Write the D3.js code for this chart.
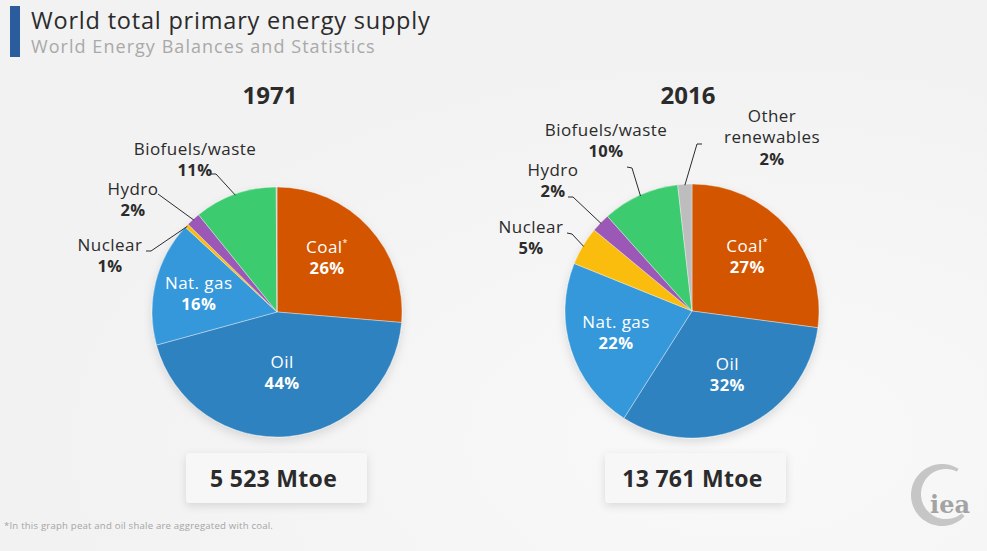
<!DOCTYPE html>
<html><head><meta charset="utf-8">
<script src="https://cdn.jsdelivr.net/npm/d3@7"></script>
<style>
html,body{margin:0;padding:0;background:#f4f4f4;}
svg{display:block;}
</style></head>
<body>
<svg id="chart" width="987" height="551"></svg>
<script>
// ---------------- DATA ----------------
const categories = ["Coal", "Oil", "Nat. gas", "Nuclear", "Hydro", "Biofuels/waste", "Other renewables"];
const years = ["1971", "2016"];
const values1971 = [26.1, 44.0, 16.0, 0.5, 1.8, 10.6, 0.1];
const values2016 = [27.1, 31.9, 22.1, 4.9, 2.4, 9.8, 1.8];
const totals = ["5 523 Mtoe", "13 761 Mtoe"];
const colors = ["#d35400", "#2e82c0", "#3598db", "#fbbd08", "#9b59b6", "#3ecb70", "#bdbdbd"];

// ---------------- LAYOUT ----------------
const FONT = "'Open Sans', 'DejaVu Sans', sans-serif";
const W = 987, H = 551;
const LS = 0.45; // letter spacing for labels
const pies = [
  {cx: 277, cy: 312, r: 125, yearX: 270, box: {x: 186, y: 453, w: 181, h: 50},
   inside: {0: [-7, -3], 1: [-2, -17], 2: [-3, -1]},
   outside: {
     5: {text: [195, 155], line: [[211, 174], [216, 174]]},
     4: {text: [133, 195], line: [[158, 194]]},
     3: {text: [110, 251], line: [[146, 251], [151, 251]]}
   }},
  {cx: 692, cy: 311, r: 127, yearX: 688, box: {x: 605, y: 453, w: 181, h: 50},
   inside: {0: [-4, -3], 1: [2, -8], 2: [-1, -3]},
   outside: {
     6: {text: [772, 122], line: [[702, 144], [697, 144]]},
     5: {text: [606, 136], line: [[627, 167], [632, 168]]},
     4: {text: [553, 176], line: [[568, 197], [573, 197]]},
     3: {text: [531, 233], line: [[567, 233], [572, 234]]}
   }}
];

const svg = d3.select("#chart");
const defs = svg.append("defs");
const bg = defs.append("radialGradient").attr("id", "bg").attr("cx", "75%").attr("cy", "80%").attr("r", "70%");
bg.append("stop").attr("offset", "0%").attr("stop-color", "#f9f9f9");
bg.append("stop").attr("offset", "100%").attr("stop-color", "#f2f2f2");
const sh = defs.append("filter").attr("id", "shadow").attr("x", "-20%").attr("y", "-20%").attr("width", "140%").attr("height", "160%");
sh.append("feDropShadow").attr("dx", 0).attr("dy", 3).attr("stdDeviation", 4).attr("flood-color", "#000").attr("flood-opacity", 0.12);
const psh = defs.append("filter").attr("id", "pshadow").attr("x", "-20%").attr("y", "-20%").attr("width", "140%").attr("height", "140%");
psh.append("feDropShadow").attr("dx", 0).attr("dy", 4).attr("stdDeviation", 5).attr("flood-color", "#000").attr("flood-opacity", 0.12);

svg.append("rect").attr("width", W).attr("height", H).attr("fill", "url(#bg)");

// Title
svg.append("rect").attr("x", 10).attr("y", 6).attr("width", 10).attr("height", 51).attr("fill", "#2a5c9e");
svg.append("text").attr("x", 31).attr("y", 29).attr("font-family", FONT).attr("font-size", 23.5)
  .attr("letter-spacing", 0.8).attr("fill", "#2b2b2b").text("World total primary energy supply");
svg.append("text").attr("x", 31).attr("y", 53).attr("font-family", FONT).attr("font-size", 18)
  .attr("letter-spacing", 1.05).attr("fill", "#a9a9a9").text("World Energy Balances and Statistics");

const pie = d3.pie().sort(null).value(d => d).startAngle(0).endAngle(2 * Math.PI);
const fmt = v => Math.round(v) + "%";

[values1971, values2016].forEach((vals, pi) => {
  const P = pies[pi];
  const g = svg.append("g");
  const arcs = pie(vals);
  const arc = d3.arc().innerRadius(0).outerRadius(P.r);
  const labelArc = d3.arc().innerRadius(P.r * 0.62).outerRadius(P.r * 0.62);
  const edgeArc = d3.arc().innerRadius(P.r - 1).outerRadius(P.r - 1);

  // year
  g.append("text").attr("x", P.yearX).attr("y", 104).attr("text-anchor", "middle")
    .attr("font-family", FONT).attr("font-weight", 700).attr("font-size", 24).attr("fill", "#2b2b2b").text(years[pi]);

  const pg = g.append("g").attr("transform", `translate(${P.cx},${P.cy})`).attr("filter", "url(#pshadow)");
  pg.selectAll("path").data(arcs).join("path")
    .attr("d", arc).attr("fill", (d, i) => colors[i])
    .attr("stroke", "#f4f4f4").attr("stroke-width", 0.4);

  // inside labels
  Object.keys(P.inside).forEach(k => {
    const i = +k, d = arcs[i];
    const c = labelArc.centroid(d);
    const x = P.cx + c[0] + P.inside[k][0], y = P.cy + c[1] + P.inside[k][1];
    const t = g.append("text").attr("x", x).attr("y", y - 4).attr("text-anchor", "middle")
      .attr("font-family", FONT).attr("font-size", 17).attr("letter-spacing", LS).attr("fill", "#fff");
    t.append("tspan").text(categories[i]);
    if (i === 0) t.append("tspan").attr("font-size", 9).attr("dy", -7).text("*");
    g.append("text").attr("x", x).attr("y", y + 17).attr("text-anchor", "middle")
      .attr("font-family", FONT).attr("font-weight", 700).attr("font-size", 16.5).attr("letter-spacing", LS)
      .attr("fill", "#fff").text(fmt(vals[i]));
  });

  // outside labels
  Object.keys(P.outside).forEach(k => {
    const i = +k, d = arcs[i], o = P.outside[k];
    const e = edgeArc.centroid(d);
    const pts = o.line.concat([[P.cx + e[0], P.cy + e[1]]]);
    g.append("path").attr("d", d3.line()(pts)).attr("fill", "none").attr("stroke", "#2b2b2b").attr("stroke-width", 1);
    let names = categories[i] === "Other renewables" ? ["Other", "renewables"] : [categories[i]];
    const step = names.length > 1 ? 21 : 20.5;
    names.forEach((n, j) => {
      g.append("text").attr("x", o.text[0]).attr("y", o.text[1] + j * step).attr("text-anchor", "middle")
        .attr("font-family", FONT).attr("font-size", 17).attr("letter-spacing", LS).attr("fill", "#2b2b2b").text(n);
    });
    g.append("text").attr("x", o.text[0]).attr("y", o.text[1] + names.length * step + 0.5).attr("text-anchor", "middle")
      .attr("font-family", FONT).attr("font-weight", 700).attr("font-size", 16.5).attr("letter-spacing", LS)
      .attr("fill", "#2b2b2b").text(fmt(vals[i]));
  });

  // total box
  g.append("rect").attr("x", P.box.x).attr("y", P.box.y).attr("width", P.box.w).attr("height", P.box.h)
    .attr("rx", 4).attr("fill", "#f7f7f7").attr("filter", "url(#shadow)");
  g.append("text").attr("x", P.box.x + P.box.w / 2 - 3).attr("y", P.box.y + 34).attr("text-anchor", "middle")
    .attr("font-family", FONT).attr("font-weight", 700).attr("font-size", 23).attr("letter-spacing", 0.3)
    .attr("fill", "#2b2b2b").text(totals[pi]);
});

// footnote
svg.append("text").attr("x", 4).attr("y", 529).attr("font-family", FONT).attr("font-size", 9.6)
  .attr("letter-spacing", 0.2).attr("fill", "#a5a5a5").text("*In this graph peat and oil shale are aggregated with coal.");

// IEA logo: crescent ring (thicker on the left) + wordmark
const lg = svg.append("g").attr("transform", "translate(942,495)");
(function () {
  const ro = 31, ri = 25, c = [4, -1];
  const a0 = 0.74 * Math.PI, a1 = 2.18 * Math.PI, n = 60;
  const outer = [], inner = [];
  for (let k = 0; k <= n; k++) {
    const a = a0 + (a1 - a0) * k / n;
    const u = [Math.sin(a), -Math.cos(a)];
    outer.push([u[0] * ro, u[1] * ro]);
    const uc = u[0] * c[0] + u[1] * c[1];
    const t = uc + Math.sqrt(uc * uc - (c[0] * c[0] + c[1] * c[1]) + ri * ri);
    inner.push([u[0] * t, u[1] * t]);
  }
  const pts = outer.concat(inner.reverse());
  lg.append("path").attr("fill", "#c6c6c6").attr("d", d3.line()(pts) + "Z");
})();
lg.append("text").attr("x", 8).attr("y", 18).attr("text-anchor", "middle")
  .attr("font-family", "'DejaVu Serif', serif").attr("font-weight", 700).attr("font-size", 24)
  .attr("fill", "#a3a3a3").text("iea");
</script>
</body></html>
